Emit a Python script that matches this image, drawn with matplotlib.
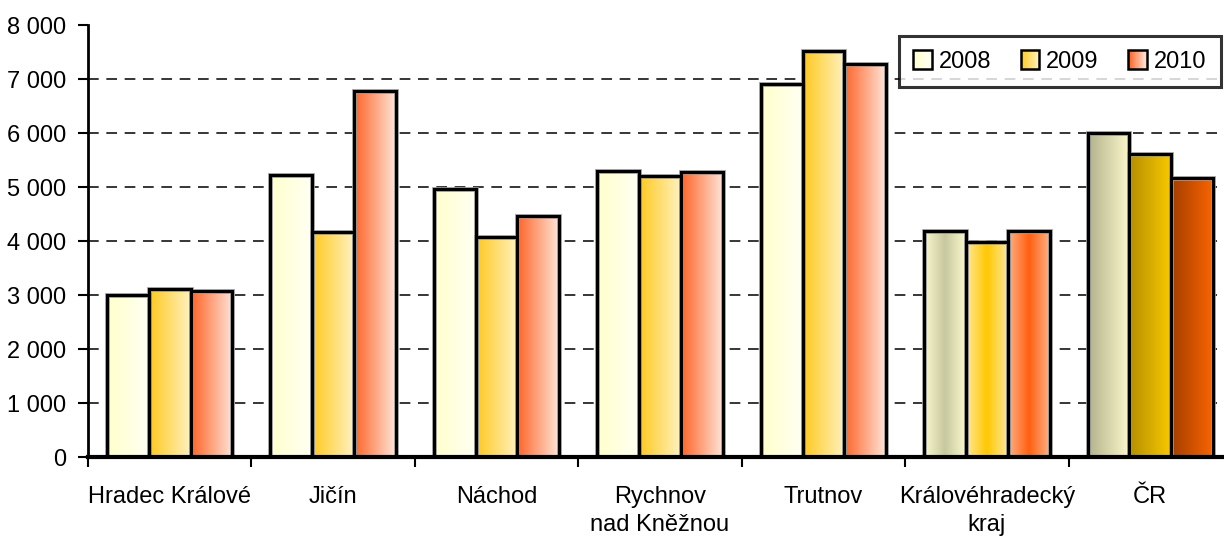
import numpy as np
import matplotlib
matplotlib.use("Agg")
import matplotlib.pyplot as plt
from matplotlib.patches import Rectangle
from matplotlib.legend_handler import HandlerBase
from matplotlib.colors import to_rgb
from matplotlib.ticker import FuncFormatter

plt.rcParams['font.family'] = ['Liberation Sans', 'DejaVu Sans']

# ---- data ----
categories = ["Hradec Králové", "Jičín", "Náchod", "Rychnov\nnad Kněžnou",
              "Trutnov", "Královéhradecký\nkraj", "ČR"]
years = ["2008", "2009", "2010"]
v2008 = [3005, 5215, 4970, 5290, 6900, 4180, 6005]
v2009 = [3115, 4175, 4080, 5195, 7515, 3975, 5615]
v2010 = [3080, 6770, 4470, 5270, 7275, 4180, 5170]
yticks = [0, 1000, 2000, 3000, 4000, 5000, 6000, 7000, 8000]

series = [v2008, v2009, v2010]

# gradient stops (left -> right) per style
grad_normal = [["#FFFFCC", "#FFFFF4"], ["#FFC820", "#FFF2C0"], ["#FF6428", "#FFE4D6"]]
grad_kraj = [["#FAF8CC", "#C8C8A0", "#FAF8CC"], ["#FFE898", "#FFC800", "#FFE898"],
             ["#FFB084", "#FF6010", "#FFB084"]]
grad_cr = [["#B2B28A", "#FCF8CC"], ["#B48E00", "#F8C800"], ["#A43E00", "#F86400"]]

FS = 17


def gradient(stops, n=64):
    cols = np.array([to_rgb(c) for c in stops])
    xs = np.linspace(0, 1, len(stops))
    t = np.linspace(0, 1, n)
    arr = np.stack([np.interp(t, xs, cols[:, k]) for k in range(3)], axis=-1)
    return arr[np.newaxis, :, :]


W, H = 1224, 545
fig = plt.figure(figsize=(W / 100, H / 100), dpi=100)
ax = fig.add_axes([88 / W, 1 - 457 / H, (1232 - 88) / W, (457 - 25) / H])

ncat = len(categories)
bw = 0.2556
x = np.arange(ncat)
for si, vals in enumerate(series):
    for ci, v in enumerate(vals):
        if categories[ci].startswith("Královéhradecký"):
            stops = grad_kraj[si]
        elif categories[ci] == "ČR":
            stops = grad_cr[si]
        else:
            stops = grad_normal[si]
        x0 = x[ci] + (si - 1.5) * bw
        ax.imshow(gradient(stops), extent=[x0, x0 + bw, 0, v], aspect='auto',
                  interpolation='bilinear', zorder=3)
        ax.add_patch(Rectangle((x0, 0), bw, v, fill=False, edgecolor="#9a9a9a",
                               linewidth=3.4, zorder=3.5))
        ax.add_patch(Rectangle((x0, 0), bw, v, fill=False, edgecolor="black",
                               linewidth=2.2, zorder=4))

ax.set_xlim(-0.5, ncat - 0.5)
ax.set_ylim(0, 8000)

for t in yticks[1:-1]:
    ax.axhline(t, color="black", linewidth=1.1, linestyle=(0, (7, 5)), zorder=1)

ax.spines['top'].set_visible(False)
ax.spines['right'].set_visible(False)
ax.spines['left'].set_linewidth(2.0)
ax.spines['bottom'].set_linewidth(3.0)
ax.spines['bottom'].set_zorder(5)

ax.set_yticks(yticks)
ax.yaxis.set_major_formatter(FuncFormatter(lambda v, p: f"{int(v):,}".replace(",", " ")))
ax.tick_params(axis='y', direction='out', length=7, width=1.5, pad=9, labelsize=FS)

ax.set_xticks(x)
ax.set_xticklabels(categories, fontsize=FS, linespacing=1.32, va='top')
ax.tick_params(axis='x', which='major', length=0, pad=21)
ax.set_xticks(np.arange(ncat + 1) - 0.5, minor=True)
ax.tick_params(axis='x', which='minor', direction='out', length=7, width=1.5)


class GradHandler(HandlerBase):
    def __init__(self, stops):
        super().__init__()
        self.stops = stops

    def create_artists(self, legend, orig_handle, xdescent, ydescent, width,
                       height, fontsize, trans):
        arr = gradient(self.stops, 16)[0]
        n = len(arr)
        s = width
        x0 = -xdescent
        y0 = -ydescent + (height - s) / 2
        arts = []
        for i, c in enumerate(arr):
            arts.append(Rectangle((x0 + i * s / n, y0), s / n * 1.05, s,
                                  facecolor=c, edgecolor='none', transform=trans))
        arts.append(Rectangle((x0, y0), s, s, fill=False, edgecolor='black',
                              linewidth=1.8, transform=trans))
        return arts


handles = [Rectangle((0, 0), 1, 1) for _ in years]
leg = ax.legend(handles, years, loc='upper right',
                bbox_to_anchor=(1221 / W, 1 - 36 / H), bbox_transform=fig.transFigure,
                borderaxespad=0, fontsize=FS, ncol=3, frameon=True, fancybox=False,
                handlelength=0.78, handletextpad=0.3, columnspacing=1.25,
                borderpad=0.62,
                handler_map={h: GradHandler(g) for h, g in zip(handles, grad_normal)})
leg.get_frame().set_edgecolor('black')
leg.get_frame().set_linewidth(2.2)
leg.set_zorder(10)

fig.savefig("out.png", dpi=100)
